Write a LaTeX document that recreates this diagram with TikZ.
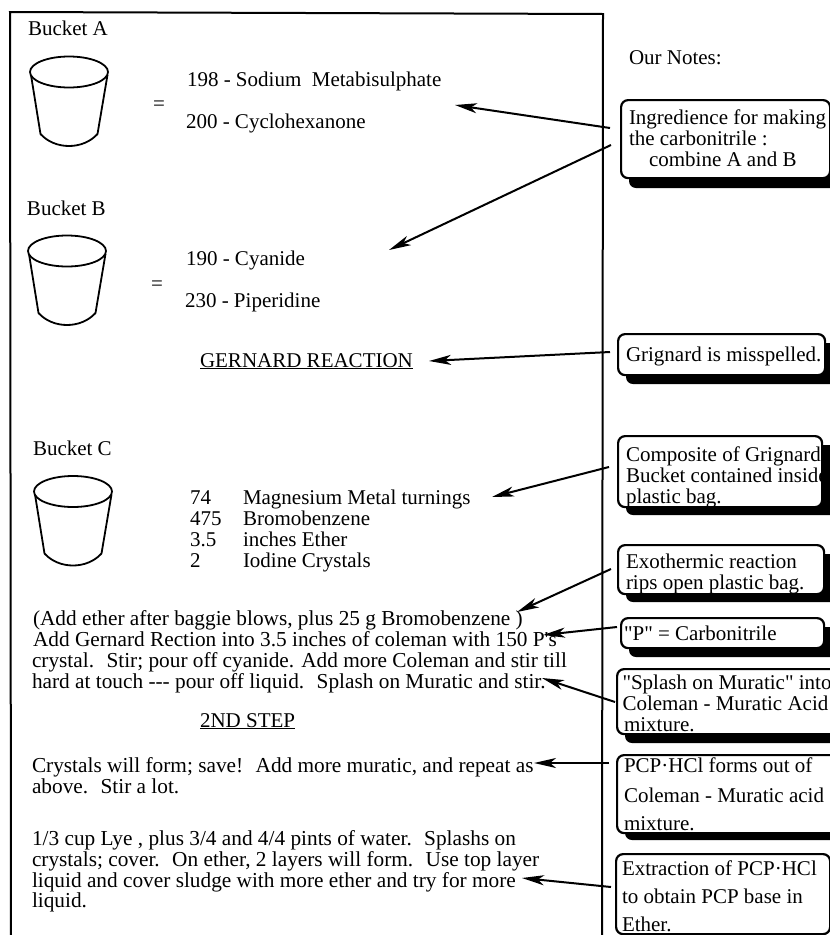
\documentclass[tikz,border=0pt]{standalone}
\usepackage{fontspec}
\newfontfamily\rf{Liberation Serif}
\usetikzlibrary{arrows.meta}
\tikzset{
  tx/.style={anchor=base west,inner sep=0pt,outer sep=0pt,font=\rf\fontsize{21}{21}\selectfont,text=black},
  pg/.style={anchor=base west,inner sep=0pt,outer sep=0pt,font=\rf\fontsize{21.3}{21}\selectfont,text=black},
  nt/.style={anchor=base west,inner sep=0pt,outer sep=0pt,font=\rf\fontsize{21}{21}\selectfont,text=black},
  bucketline/.style={line width=1.8pt,line join=round},
  frameline/.style={line width=2pt},
  arr/.style={line width=2pt,-{Stealth[length=22pt,width=10pt,inset=6pt]}},
  notebox/.style={draw=black,fill=white,line width=2.2pt,rounded corners=7pt},
  noteshadow/.style={fill=black,rounded corners=7pt}
}
\newcommand{\tl}[4]{\node[tx] (#1) at (#2,#3) {#4};}
\newcommand{\pl}[4]{\node[pg] (#1) at (#2,#3) {#4};}
\newcommand{\nl}[4]{\node[nt] (#1) at (#2,#3) {#4};}
\newcommand{\bucket}[2]{%
  \begin{scope}[shift={(#1,#2)}]
    \draw[bucketline] (-38,3) -- (-28.5,62) .. controls (-14,78) and (14,78) .. (28.5,62) -- (38.5,3);
    \draw[bucketline] (0,0) ellipse [x radius=39,y radius=15.5];
  \end{scope}}
% box: name x1 y1 x2 y2 shadowx2 shadowy2
\newcommand{\notebx}[7]{%
  \path[noteshadow] (#2+9,#3+10) rectangle (#6,#7);
  \node[notebox,anchor=north west,minimum width=#4 pt-#2 pt,minimum height=#5 pt-#3 pt,inner sep=0pt] (#1) at (#2,#3) {};}
\begin{document}
\begin{tikzpicture}[x=1pt,y=-1pt]
\useasboundingbox (0,0) rectangle (830,935);
\clip (0,0) rectangle (830,935);
\fill[white] (0,0) rectangle (830,935);
% frame
\draw[frameline] (11,935) -- (10,12) -- (603,14) -- (602,935);
% left column
\tl{ba}{28}{35}{Bucket A}
\bucket{69}{72}
\tl{eqa}{153}{110}{=}
\tl{a1}{187}{86}{198 - Sodium~ Metabisulphate}
\tl{a2}{186}{128}{200 - Cyclohexanone}
\tl{bb}{27}{215}{Bucket B}
\bucket{67}{251}
\tl{eqb}{151}{290}{=}
\tl{b1}{186}{265}{190 - Cyanide}
\tl{b2}{185}{307}{230 - Piperidine}
\tl{gr}{200}{367}{\underline{GERNARD REACTION}}
\tl{bc}{33}{455}{Bucket C}
\bucket{73}{491.5}
\tl{c1n}{190}{504}{74}\tl{c1}{243}{504}{Magnesium Metal turnings}
\tl{c2n}{190}{525}{475}\tl{c2}{243}{525}{Bromobenzene}
\tl{c3n}{190}{546}{3.5}\tl{c3}{243}{546}{inches Ether}
\tl{c4n}{190}{567}{2}\tl{c4}{243}{567}{Iodine Crystals}
\pl{p1}{33}{625}{(Add ether after baggie blows, plus 25 g Bromobenzene )}
\pl{p2}{33}{646}{Add Gernard Rection into 3.5 inches of coleman with 150 P's}
\pl{p3}{32}{667}{crystal.~ Stir; pour off cyanide. Add more Coleman and stir till}
\pl{p4}{32}{688}{hard at touch --- pour off liquid.~ Splash on Muratic and stir.}
\tl{st}{200}{727}{\underline{2ND STEP}}
\pl{q1}{32}{772}{Crystals will form; save!~ Add more muratic, and repeat as}
\pl{q2}{32}{793}{above.~ Stir a lot.}
\pl{r1}{32}{845}{1/3 cup Lye , plus 3/4 and 4/4 pints of water.~ Splashs on}
\pl{r2}{32}{866}{crystals; cover.~ On ether, 2 layers will form.~ Use top layer}
\pl{r3}{32}{887}{liquid and cover sludge with more ether and try for more}
\pl{r4}{32}{907}{liquid.}
% notes
\nl{on}{629}{64}{Our Notes:}
\notebx{n1}{620}{99}{829}{177}{840}{188}
\nl{n1a}{629}{124}{Ingredience for making}
\nl{n1b}{629}{145}{the carbonitrile :}
\nl{n1c}{649}{166}{combine A and B}
\notebx{n2}{617}{333}{824}{374}{840}{384}
\nl{n2a}{626}{361}{Grignard is misspelled.}
\notebx{n3}{617}{435}{821}{506}{840}{515}
\nl{n3a}{626}{461}{Composite of Grignard}
\nl{n3b}{626}{482}{Bucket contained inside}
\nl{n3c}{626}{503}{plastic bag.}
\notebx{n4}{617}{544}{823}{593}{840}{602}
\nl{n4a}{626}{568}{Exothermic reaction}
\nl{n4b}{626}{589}{rips open plastic bag.}
\notebx{n5}{620}{617}{823}{647}{840}{657}
\nl{n5a}{624}{640}{"P" = Carbonitrile}
\notebx{n6}{616}{668}{840}{733}{840}{743}
\nl{n6a}{622.5}{689}{"Splash on Muratic" into}
\nl{n6b}{622.5}{710}{Coleman - Muratic Acid}
\nl{n6c}{624}{731}{mixture.}
\notebx{n7}{616}{754}{840}{832}{840}{840}
\nl{n7a}{624}{772}{PCP·HCl forms out of}
\nl{n7b}{624}{802}{Coleman - Muratic acid}
\nl{n7c}{624}{830}{mixture.}
\notebx{n8}{615}{853}{829}{933}{829}{933}
\nl{n8a}{622}{875}{Extraction of PCP·HCl}
\nl{n8b}{622}{903}{to obtain PCP base in}
\nl{n8c}{622}{931}{Ether.}
% connector ends
\coordinate (s1) at (610,128); \coordinate (t1) at (455,105);
\coordinate (s2) at (611,145); \coordinate (t2) at (389,250);
\coordinate (s3) at (610,352); \coordinate (t3) at (429,361);
\coordinate (s4) at (609,467); \coordinate (t4) at (492,497);
\coordinate (s5) at (611,569); \coordinate (t5) at (517,612);
\coordinate (s6) at (617,627); \coordinate (t6) at (543,635);
\coordinate (s7) at (615,702); \coordinate (t7) at (542,678);
\coordinate (s8) at (609,763); \coordinate (t8) at (534,763);
\coordinate (s9) at (611,887); \coordinate (t9) at (522,878);
\foreach \i in {1,...,9} \draw[arr] (s\i) -- (t\i);
\end{tikzpicture}
\end{document}
